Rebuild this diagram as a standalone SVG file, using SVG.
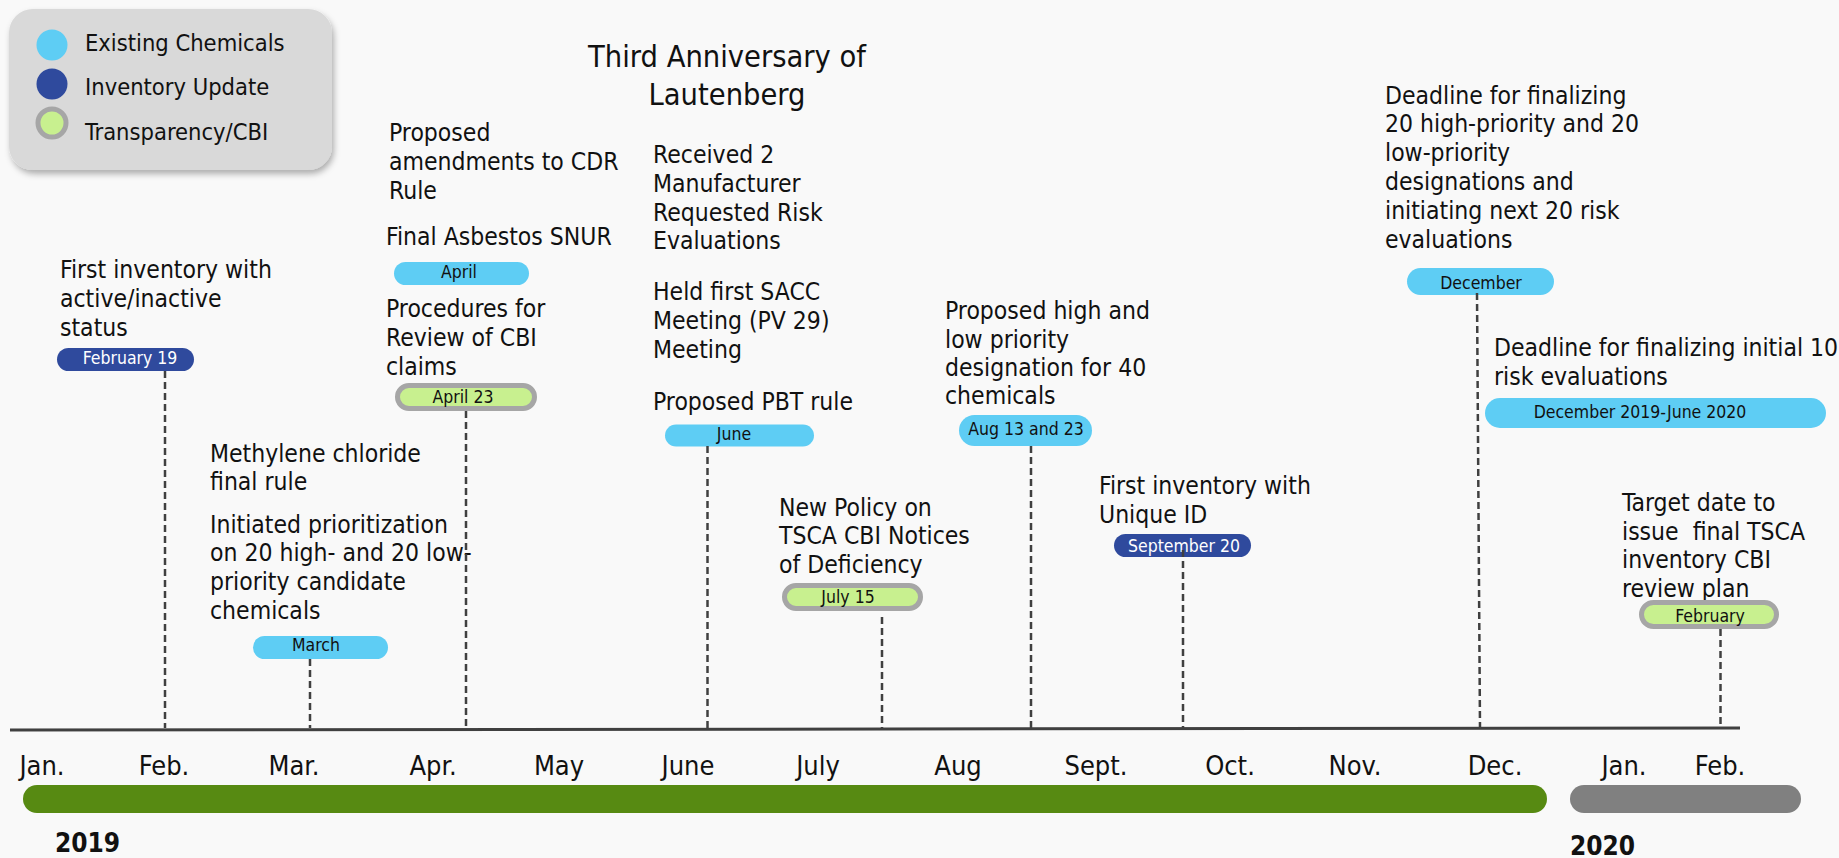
<svg xmlns="http://www.w3.org/2000/svg" width="1839" height="858" viewBox="0 0 1839 858">
<defs>
<filter id="shadow" x="-10%" y="-10%" width="130%" height="140%">
<feDropShadow dx="2" dy="4" stdDeviation="3" flood-color="#000" flood-opacity="0.3"/>
</filter>
</defs>
<style>
text{font-family:"DejaVu Sans Condensed","DejaVu Sans",sans-serif;font-stretch:condensed;fill:#111}
.ev{font-size:24.5px}
.leg{font-size:23.5px}
.title{font-size:30.5px;text-anchor:middle}
.month{font-size:27px;text-anchor:middle}
.year{font-size:26px;font-weight:bold}
.pt{font-size:17.5px;text-anchor:middle}
.pw{font-size:17.5px;text-anchor:middle;fill:#fff}
.cyan{fill:#5ecdf4}
.blue{fill:#2f4a9d}
.cbi{fill:#c8f08f;stroke:#a6a6a6;stroke-width:5}
.dash{stroke:#404040;stroke-width:2.5;stroke-dasharray:7 4;fill:none}
</style>
<rect width="1839" height="858" fill="#f9f9f9"/>

<g id="legend">
<rect x="9" y="9" width="323" height="161" rx="24" fill="#d9d9d9" filter="url(#shadow)"/>
<circle cx="52" cy="45" r="15.5" class="cyan"/>
<circle cx="52" cy="84" r="15.5" class="blue"/>
<circle cx="52" cy="123" r="14" class="cbi"/>
<text class="leg" x="85" y="51">Existing Chemicals</text>
<text class="leg" x="85" y="95">Inventory Update</text>
<text class="leg" x="85" y="140">Transparency/CBI</text>
</g>

<g id="title">
<text class="title" x="727" y="67">Third Anniversary of</text>
<text class="title" x="727" y="105">Lautenberg</text>
</g>

<g id="axis">
<line x1="10" y1="730" x2="1740" y2="728" stroke="#404040" stroke-width="3"/>
<rect x="23" y="785" width="1524" height="28" rx="14" fill="#578a12"/>
<rect x="1570" y="785" width="231" height="28" rx="14" fill="#808080"/>
<text class="month" x="42" y="775">Jan.</text>
<text class="month" x="164" y="775">Feb.</text>
<text class="month" x="294" y="775">Mar.</text>
<text class="month" x="433" y="775">Apr.</text>
<text class="month" x="559" y="775">May</text>
<text class="month" x="688" y="775">June</text>
<text class="month" x="818" y="775">July</text>
<text class="month" x="958" y="775">Aug</text>
<text class="month" x="1096" y="775">Sept.</text>
<text class="month" x="1230" y="775">Oct.</text>
<text class="month" x="1355" y="775">Nov.</text>
<text class="month" x="1495" y="775">Dec.</text>
<text class="month" x="1624" y="775">Jan.</text>
<text class="month" x="1720" y="775">Feb.</text>
<text class="year" x="55" y="852">2019</text>
<text class="year" x="1570" y="855">2020</text>
</g>

<g id="ev-feb19">
<text class="ev" x="60" y="278">First inventory with</text>
<text class="ev" x="60" y="307">active/inactive</text>
<text class="ev" x="60" y="336">status</text>
<rect x="57" y="348" width="137" height="23" rx="11.5" class="blue"/>
<text class="pw" x="130" y="364">February 19</text>
</g>

<g id="ev-march">
<text class="ev" x="210" y="462">Methylene chloride</text>
<text class="ev" x="210" y="490">final rule</text>
<text class="ev" x="210" y="533">Initiated prioritization</text>
<text class="ev" x="210" y="561">on 20 high- and 20 low-</text>
<text class="ev" x="210" y="590">priority candidate</text>
<text class="ev" x="210" y="619">chemicals</text>
<rect x="253" y="636" width="135" height="23" rx="11.5" class="cyan"/>
<text class="pt" x="316" y="651">March</text>
</g>

<g id="ev-april">
<text class="ev" x="389" y="141">Proposed</text>
<text class="ev" x="389" y="170">amendments to CDR</text>
<text class="ev" x="389" y="199">Rule</text>
<text class="ev" x="386" y="245">Final Asbestos SNUR</text>
<rect x="394" y="262" width="135" height="23" rx="11.5" class="cyan"/>
<text class="pt" x="459" y="278">April</text>
</g>

<g id="ev-april23">
<text class="ev" x="386" y="317">Procedures for</text>
<text class="ev" x="386" y="346">Review of CBI</text>
<text class="ev" x="386" y="375">claims</text>
<rect x="397.5" y="385.5" width="137" height="23" rx="11.5" class="cbi"/>
<text class="pt" x="463" y="403">April 23</text>
</g>

<g id="ev-june">
<text class="ev" x="653" y="163">Received 2</text>
<text class="ev" x="653" y="192">Manufacturer</text>
<text class="ev" x="653" y="221">Requested Risk</text>
<text class="ev" x="653" y="249">Evaluations</text>
<text class="ev" x="653" y="300">Held first SACC</text>
<text class="ev" x="653" y="329">Meeting (PV 29)</text>
<text class="ev" x="653" y="358">Meeting</text>
<text class="ev" x="653" y="410">Proposed PBT rule</text>
<rect x="665" y="424.5" width="149" height="22" rx="11" class="cyan"/>
<text class="pt" x="734" y="440">June</text>
</g>

<g id="ev-july15">
<text class="ev" x="779" y="516">New Policy on</text>
<text class="ev" x="779" y="544">TSCA CBI Notices</text>
<text class="ev" x="779" y="573">of Deficiency</text>
<rect x="784.5" y="585.5" width="136" height="23" rx="11.5" class="cbi"/>
<text class="pt" x="848" y="603">July 15</text>
</g>

<g id="ev-aug">
<text class="ev" x="945" y="319">Proposed high and</text>
<text class="ev" x="945" y="348">low priority</text>
<text class="ev" x="945" y="376">designation for 40</text>
<text class="ev" x="945" y="404">chemicals</text>
<rect x="959" y="415" width="133" height="31" rx="15.5" class="cyan"/>
<text class="pt" x="1026" y="435">Aug 13 and 23</text>
</g>

<g id="ev-sep20">
<text class="ev" x="1099" y="494">First inventory with</text>
<text class="ev" x="1099" y="523">Unique ID</text>
<rect x="1114" y="534" width="137" height="23" rx="11.5" class="blue"/>
<text class="pw" x="1184" y="552">September 20</text>
</g>

<g id="ev-december">
<text class="ev" x="1385" y="104">Deadline for finalizing</text>
<text class="ev" x="1385" y="132">20 high-priority and 20</text>
<text class="ev" x="1385" y="161">low-priority</text>
<text class="ev" x="1385" y="190">designations and</text>
<text class="ev" x="1385" y="219">initiating next 20 risk</text>
<text class="ev" x="1385" y="248">evaluations</text>
<rect x="1407" y="268" width="147" height="27" rx="13.5" class="cyan"/>
<text class="pt" x="1481" y="289">December</text>
</g>

<g id="ev-dec-jun">
<text class="ev" x="1494" y="356">Deadline for finalizing initial 10</text>
<text class="ev" x="1494" y="385">risk evaluations</text>
<rect x="1485" y="398" width="341" height="30" rx="15" class="cyan"/>
<text class="pt" x="1640" y="418">December 2019-June 2020</text>
</g>

<g id="ev-feb2020">
<text class="ev" x="1622" y="511">Target date to</text>
<text class="ev" x="1622" y="540" xml:space="preserve">issue  final TSCA</text>
<text class="ev" x="1622" y="568">inventory CBI</text>
<text class="ev" x="1622" y="597">review plan</text>
<rect x="1641.5" y="602.5" width="135" height="24" rx="12" class="cbi"/>
<text class="pt" x="1710" y="622">February</text>
</g>

<g id="connectors">
<line class="dash" x1="165" y1="371" x2="165" y2="728"/>
<line class="dash" x1="310" y1="659" x2="310" y2="728"/>
<line class="dash" x1="466" y1="411" x2="466" y2="728"/>
<line class="dash" x1="707.5" y1="446" x2="707.5" y2="728"/>
<line class="dash" x1="882" y1="617" x2="882" y2="728"/>
<line class="dash" x1="1031" y1="446" x2="1031" y2="728"/>
<line class="dash" x1="1183" y1="550" x2="1183" y2="728"/>
<line class="dash" x1="1477" y1="293" x2="1480" y2="728"/>
<line class="dash" x1="1720.5" y1="629" x2="1720.5" y2="728"/>
</g>
</svg>
